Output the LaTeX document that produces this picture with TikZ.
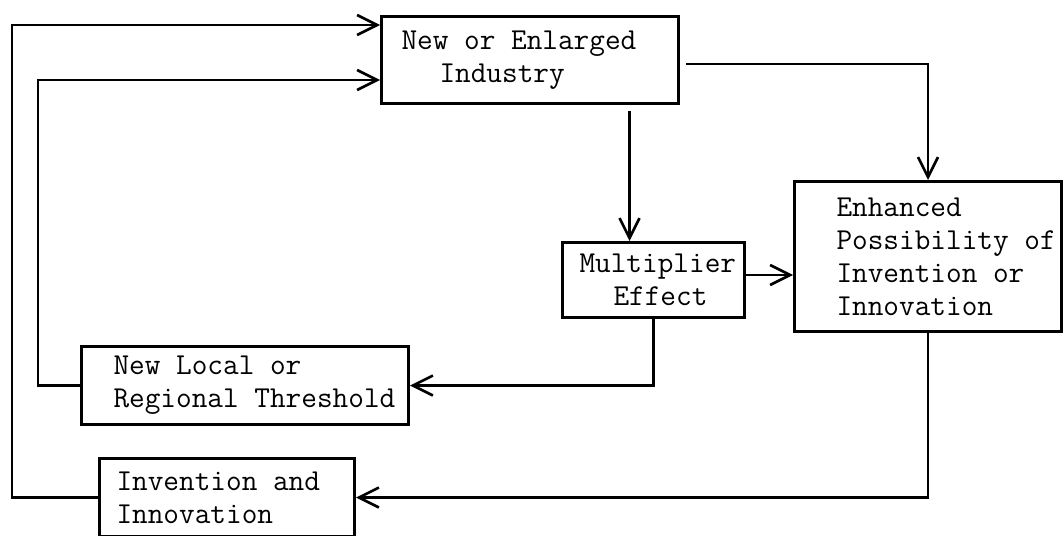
\documentclass[tikz,border=0pt]{standalone}
\usepackage{tikz}
\usetikzlibrary{arrows.meta}

\begin{document}
\begin{tikzpicture}[x=0.5pt,y=-0.5pt,>={Straight Barb[length=10pt,width=10pt]},
    box/.style={draw,line width=1.5pt,anchor=north west,align=left,inner ysep=2pt,
                font=\ttfamily\fontsize{15.2}{16.5}\selectfont,
                execute at begin node={\spaceskip=\fontdimen2\font\relax}},
    link/.style={->,line width=1.3pt}]
  \useasboundingbox (0,0) rectangle (1063,535);
  \node[box,text width=128.5pt,inner xsep=10pt,minimum height=43.5pt] (industry) at (380,15)
      {New or Enlarged\\\hspace*{19pt}Industry};
  \node[box,text width=74pt,inner xsep=8.5pt,minimum height=37.5pt] (multiplier) at (561,241)
      {Multiplier\\\hspace*{17pt}Effect};
  \node[box,text width=91.5pt,inner xsep=21pt,minimum height=75pt] (enhanced) at (793,180)
      {Enhanced\\Possibility~of\\Invention~or\\Innovation};
  \node[box,text width=131.5pt,inner xsep=16pt,minimum height=39pt] (threshold) at (80,345)
      {New Local or\\Regional~Threshold};
  \node[box,text width=110.5pt,inner xsep=8.5pt,minimum height=39pt] (invention) at (98,457)
      {Invention and\\Innovation};
  % bends of the two feedback loops
  \coordinate (outerbend) at (12,25);
  \coordinate (innerbend) at (38,80);
  \draw[link] (invention.west) -| (outerbend) -- (outerbend -| industry.west);
  \draw[link] (threshold.west) -| (innerbend) -- (innerbend -| industry.west);
  \draw[link,shorten <=3pt] ([yshift=-2pt]industry.east) -| (enhanced.north);
  \draw[link,shorten <=3pt] ([xshift=-12pt]multiplier.north |- industry.south)
      -- ([xshift=-12pt]multiplier.north);
  \draw[link] ([yshift=2.5pt]multiplier.east) -- ([yshift=2.5pt]multiplier.east -| enhanced.west);
  \draw[link] (multiplier.south) |- (threshold.east);
  \draw[link] (enhanced.south) |- (invention.east);
\end{tikzpicture}
\end{document}
